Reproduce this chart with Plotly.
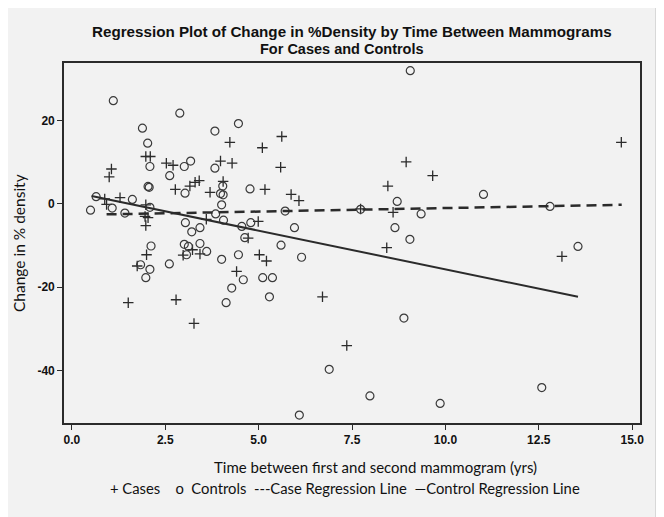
import plotly.graph_objects as go

# ---- data ----
cases_x = [4.23, 3.98, 4.29, 1.06, 1.00, 1.98, 2.10, 2.53, 2.71, 2.77, 3.16, 3.30, 3.41, 3.70, 4.05,
           0.88, 1.29, 0.93, 1.98, 1.96, 2.04, 1.98, 3.60, 4.72, 2.00, 2.98, 3.23, 3.43, 4.99, 5.02,
           5.21, 4.41, 2.79, 1.51, 1.75, 3.27, 6.71, 7.36, 5.62, 5.10, 5.59, 5.17, 5.87, 6.08, 8.95,
           9.66, 8.46, 8.60, 8.43, 7.73, 14.71, 13.12]
cases_y = [14.8, 10.3, 9.8, 8.4, 6.5, 11.4, 11.4, 9.8, 9.3, 3.5, 4.3, 5.2, 5.6, 2.8, 5.4,
           1.2, 1.5, -0.1, -0.2, -3.0, -3.3, -5.2, -3.7, -8.2, -12.2, -12.3, -11.0, -12.0, -4.2, -12.2,
           -13.7, -16.2, -23.0, -23.7, -14.9, -28.7, -22.3, -34.0, 16.2, 13.5, 8.8, 3.5, 2.3, 0.8, 10.1,
           6.8, 4.3, -2.0, -10.5, -1.2, 14.8, -12.6]

controls_x = [1.11, 2.89, 1.89, 4.46, 3.83, 2.03, 2.09, 3.18, 3.01, 3.83, 2.62, 2.04, 2.07, 3.03, 4.04,
              3.98, 4.05, 4.77, 4.01, 0.65, 0.50, 1.08, 1.62, 1.42, 2.09, 3.04, 3.21, 3.43, 3.85, 4.06,
              4.55, 4.79, 4.63, 2.12, 3.01, 3.12, 3.43, 3.61, 3.07, 4.01, 4.46, 1.84, 2.09, 1.98, 2.61,
              4.28, 4.13, 4.59, 5.11, 5.37, 5.29, 6.15, 8.89, 6.89, 7.98, 6.09, 9.86, 12.58, 9.06, 5.71,
              7.73, 8.71, 9.35, 5.96, 8.65, 9.05, 5.60, 11.02, 12.80, 13.55]
controls_y = [24.8, 21.8, 18.2, 19.3, 17.5, 14.6, 9.0, 10.3, 9.0, 8.6, 6.8, 4.2, 4.0, 2.6, 4.3,
              2.5, 2.2, 3.6, -0.2, 1.75, -1.5, -1.0, 1.1, -2.2, -0.8, -4.5, -6.7, -5.7, -2.4, -3.9,
              -5.4, -4.5, -8.1, -10.1, -9.7, -10.2, -9.5, -11.4, -12.2, -13.3, -12.2, -14.6, -15.7, -17.7, -14.4,
              -20.2, -23.7, -18.2, -17.7, -17.7, -22.3, -12.8, -27.4, -39.7, -46.1, -50.7, -47.9, -44.1, 32.0, -1.7,
              -1.3, 0.6, -2.4, -5.7, -5.7, -8.5, -9.9, 2.3, -0.6, -10.2]

case_line_x = [0.93, 14.72]
case_line_y = [-2.5, -0.2]
control_line_x = [0.53, 13.55]
control_line_y = [1.9, -22.3]

x_ticks = [0.0, 2.5, 5.0, 7.5, 10.0, 12.5, 15.0]
x_tick_labels = ["0.0", "2.5", "5.0", "7.5", "10.0", "12.5", "15.0"]
y_ticks = [20, 0, -20, -40]
y_tick_labels = ["20", "0", "-20", "-40"]

title = "Regression Plot of Change in %Density by Time Between Mammograms"
subtitle = "For Cases and Controls"
x_title = "Time between first and second mammogram (yrs)"
y_title = "Change in % density"
legend_text = "+ Cases &nbsp;&nbsp; o &nbsp;Controls &nbsp;---Case Regression Line &nbsp;\u2014Control Regression Line"

BG = "#f2f2f2"
INK = "#2b2b2b"

fig = go.Figure()
fig.add_trace(go.Scatter(x=cases_x, y=cases_y, mode="markers", name="Cases",
                         marker=dict(symbol="cross-thin-open", size=7.5, color=INK,
                                     line=dict(color=INK, width=1.3))))
fig.add_trace(go.Scatter(x=controls_x, y=controls_y, mode="markers", name="Controls",
                         marker=dict(symbol="circle-open", size=8, color="#3a3a3a",
                                     line=dict(color="#3a3a3a", width=1.2))))
fig.add_trace(go.Scatter(x=case_line_x, y=case_line_y, mode="lines", name="Case Regression Line",
                         line=dict(color=INK, width=2.5, dash="10px,6px")))
fig.add_trace(go.Scatter(x=control_line_x, y=control_line_y, mode="lines", name="Control Regression Line",
                         line=dict(color=INK, width=2)))

# the page shows the figure with an 8px body offset; positions below are page pixels
OX, OY = 8, 8
W, H = 664, 517
PL, PR, PT, PB = 64, 640, 63, 423          # plot frame in page pixels
L, R, T, B = PL - OX, W - (PR - OX), PT - OY, H - (PB - OY)
pw, ph = W - L - R, H - T - B


def px(xp):
    return (xp - OX - L) / pw


def py(yp):
    return (H - (yp - OY) - B) / ph


axis_common = dict(showgrid=False, zeroline=False, showline=True, linecolor=INK, linewidth=1.6,
                   mirror=True, ticks="outside", ticklen=5, tickwidth=1.4, tickcolor=INK,
                   automargin=False,
                   tickfont=dict(family="Liberation Sans", size=12, color="#111", weight="bold"))

fig.update_layout(
    width=W, height=H,
    paper_bgcolor=BG, plot_bgcolor=BG,
    margin=dict(l=L, r=R, t=T, b=B, autoexpand=False),
    showlegend=False,
    xaxis=dict(range=[-0.21, 15.21], tickvals=x_ticks, ticktext=x_tick_labels, **axis_common),
    yaxis=dict(range=[-52.6, 33.85], tickvals=y_ticks, ticktext=y_tick_labels, **axis_common),
    annotations=[
        dict(text="<b>" + title + "</b>", xref="paper", yref="paper",
             x=px(352), y=py(31), xanchor="center", yanchor="middle", showarrow=False,
             font=dict(family="Liberation Sans", size=15.2, color="#111")),
        dict(text="<b>" + subtitle + "</b>", xref="paper", yref="paper",
             x=px(342), y=py(49), xanchor="center", yanchor="middle", showarrow=False,
             font=dict(family="Liberation Sans", size=14.5, color="#111")),
        dict(text=x_title, xref="paper", yref="paper",
             x=px(375), y=py(467), xanchor="center", yanchor="middle", showarrow=False,
             font=dict(family="Lato", size=15, color="#111")),
        dict(text=y_title, xref="paper", yref="paper", textangle=-90,
             x=px(19), y=py(243), xanchor="center", yanchor="middle", showarrow=False,
             font=dict(family="Lato", size=15.5, color="#111")),
        dict(text=legend_text, xref="paper", yref="paper",
             x=px(345), y=py(488), xanchor="center", yanchor="middle", showarrow=False,
             font=dict(family="Lato", size=14.8, color="#111")),
    ],
    shapes=[dict(type="line", xref="paper", yref="paper",
                 x0=px(656), x1=px(656), y0=py(517), y1=py(0),
                 line=dict(color="#cfcfcf", width=1.5))],
)

fig.write_html("out.html")
